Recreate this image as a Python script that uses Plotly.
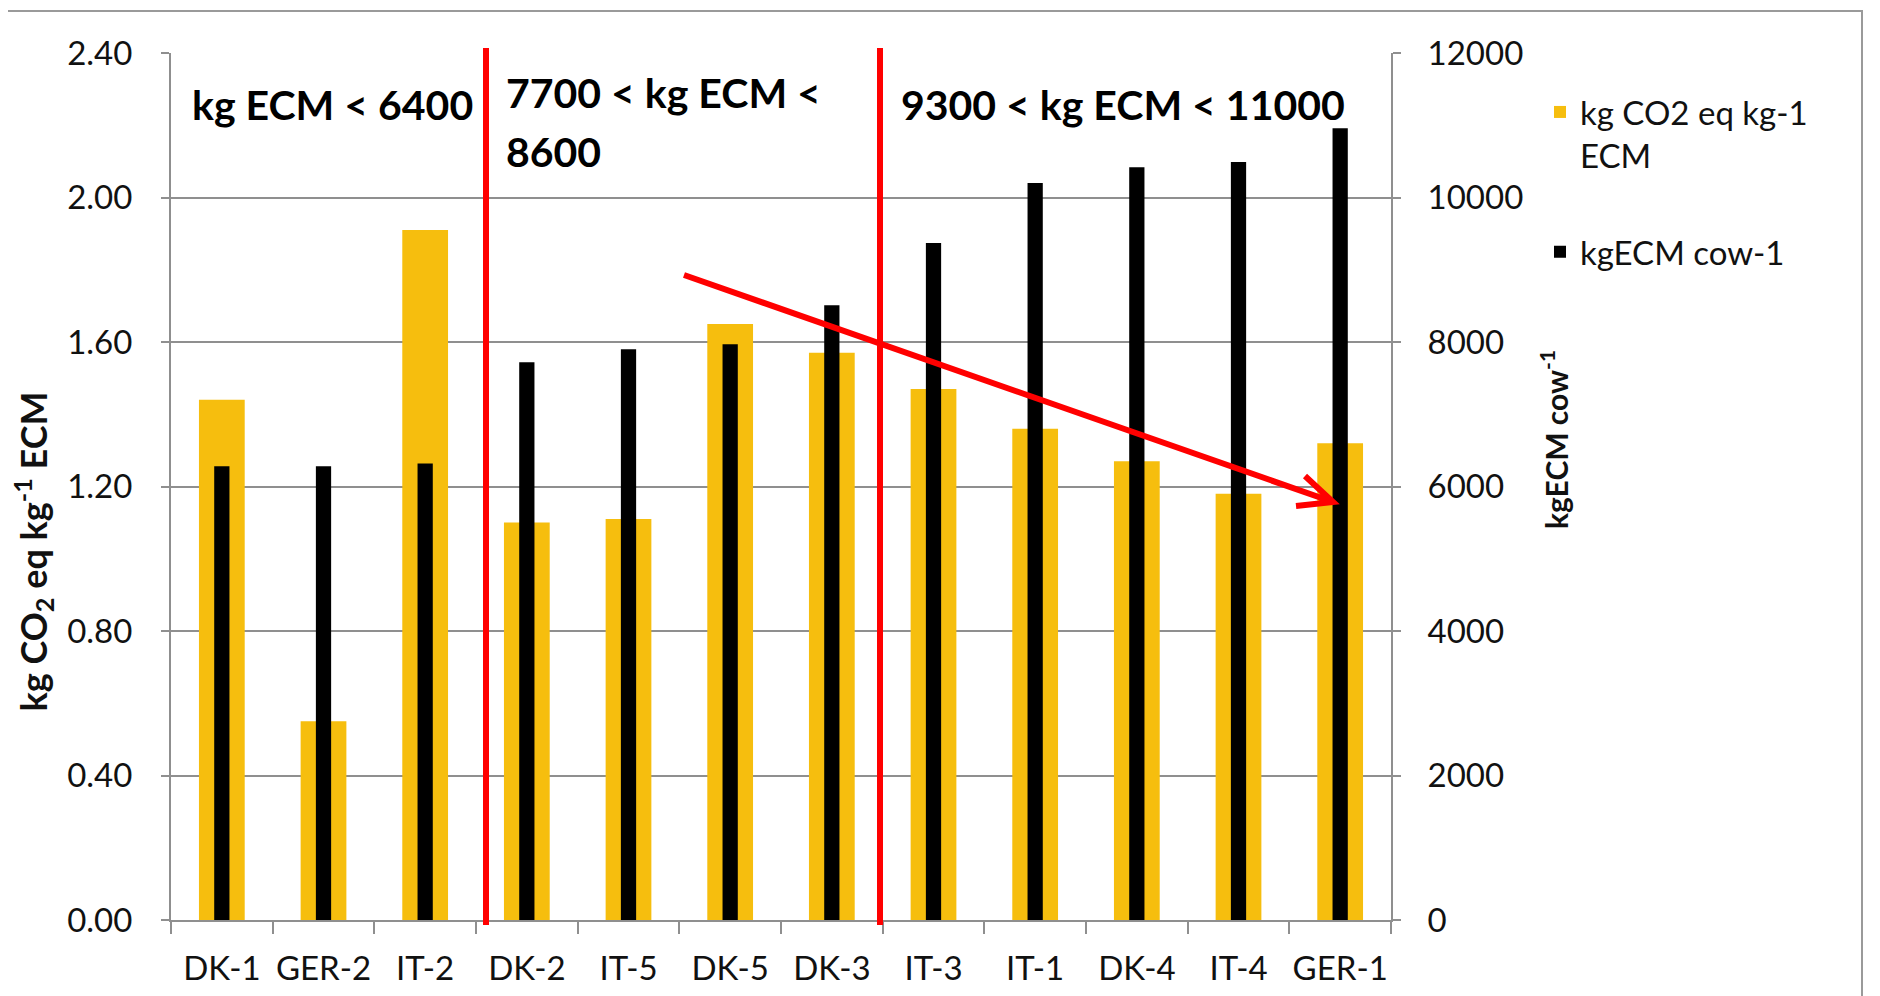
import plotly.graph_objects as go

# ------------ datos del grafico ------------ #
farms = ["DK-1", "GER-2", "IT-2", "DK-2", "IT-5", "DK-5", "DK-3",
         "IT-3", "IT-1", "DK-4", "IT-4", "GER-1"]
co2_per_kg_ecm = [1.44, 0.55, 1.91, 1.10, 1.11, 1.65, 1.57,
                  1.47, 1.36, 1.27, 1.18, 1.32]
ecm_per_cow = [6280, 6280, 6320, 7720, 7900, 7970, 8510,
               9370, 10200, 10420, 10490, 10960]

group_labels = ["kg ECM < 6400", "7700 < kg ECM <", "8600", "9300 < kg ECM < 11000"]

W, H = 1880, 996
OFF = 8  # margen del body en la pagina html
L, T = 171 - OFF, 53 - OFF
R, B = W - (1391 - OFF), H - (920 - OFF)
PW, PH = W - L - R, H - T - B


def px_x(px):
    # pixel de pagina -> coordenada paper
    return (px - OFF - L) / PW


def px_y(py):
    return (H - B - (py - OFF)) / PH


def grafico_co2_ecm():
    fig = go.Figure()
    fig.add_trace(go.Bar(
        x=farms, y=co2_per_kg_ecm, name="kg CO2 eq kg-1<br>ECM",
        marker=dict(color="#F6BE0E", line=dict(width=0)),
        width=0.45, yaxis="y", legendgroup="a",
    ))
    fig.add_trace(go.Bar(
        x=farms, y=ecm_per_cow, name="kgECM cow-1",
        marker=dict(color="#000000", line=dict(width=0)),
        width=0.15, yaxis="y2", legendgroup="b",
    ))

    grid = "#8f8f8f"
    tickfont = dict(family="Lato", size=33, color="#111111")
    fig.update_layout(
        width=W, height=H,
        margin=dict(l=L, r=R, t=T, b=B, pad=0, autoexpand=False),
        barmode="overlay",
        plot_bgcolor="white", paper_bgcolor="white",
        font=dict(family="Lato", color="#111111"),
        xaxis=dict(
            type="category", showline=True, linecolor=grid, linewidth=2,
            ticks="outside", tickson="boundaries", ticklen=12, tickcolor=grid,
            tickwidth=2, tickfont=tickfont, ticklabelstandoff=18,
            tickangle=0, automargin=False, showgrid=False,
        ),
        yaxis=dict(
            range=[0, 2.4], dtick=0.4, tickformat=".2f",
            showline=True, linecolor=grid, linewidth=2,
            showgrid=True, gridcolor=grid, gridwidth=2,
            ticks="outside", ticklen=8, tickcolor=grid, tickwidth=2,
            tickfont=tickfont, ticklabelstandoff=22, zeroline=False,
            automargin=False,
        ),
        yaxis2=dict(
            range=[0, 12000], dtick=2000, tickformat="d", side="right",
            overlaying="y", showline=True, linecolor=grid, linewidth=2,
            showgrid=False, ticks="outside", ticklen=8, tickcolor=grid,
            tickwidth=2, tickfont=tickfont, ticklabelstandoff=20,
            zeroline=False, automargin=False,
        ),
        legend=dict(
            x=px_x(1540), y=px_y(84), xanchor="left", yanchor="top",
            font=dict(family="Lato", size=33, color="#111111"),
            valign="top", tracegroupgap=51, traceorder="grouped",
            bgcolor="rgba(0,0,0,0)",
        ),
        showlegend=True,
    )

    # titulos de ejes
    bold = dict(family="Lato", size=36, color="#111111", weight="bold")
    fig.add_annotation(x=px_x(4), y=px_y(552), xref="paper", yref="paper",
                       text="<b>kg CO<sub>2</sub> eq kg<sup>-1</sup> ECM</b>",
                       textangle=-90, showarrow=False, font=bold)
    fig.add_annotation(x=px_x(1576), y=px_y(439), xref="paper", yref="paper",
                       text="<b>kgECM cow<sup>-1</sup></b>",
                       textangle=-90, showarrow=False,
                       font=dict(bold, size=30))

    # etiquetas de grupos
    gfont = dict(family="Lato", size=41, color="#000000")
    pos = [(190, 104), (504, 92), (504, 152), (899, 105)]
    for txt, (gx, gy) in zip(group_labels, pos):
        fig.add_annotation(x=px_x(gx), y=px_y(gy), xref="paper", yref="paper",
                           text=f"<b>{txt}</b>", xanchor="left", yanchor="middle",
                           showarrow=False, font=gfont)

    # lineas rojas de separacion
    for lx in (486, 880):
        fig.add_shape(type="line", xref="paper", yref="paper",
                      x0=px_x(lx), x1=px_x(lx), y0=px_y(48), y1=px_y(925),
                      line=dict(color="#FF0000", width=6))

    # flecha roja (punta abierta)
    sx, sy = px_x(684), px_y(275)
    tx, ty = px_x(1333), px_y(502)
    ux, uy = px_x(1305), px_y(476)
    lx_, ly_ = px_x(1296), px_y(506)
    path = (f"M{sx},{sy} L{tx},{ty} M{ux},{uy} L{tx},{ty} L{lx_},{ly_}")
    fig.add_shape(type="path", xref="paper", yref="paper", path=path,
                  line=dict(color="#FF0000", width=6))

    # marco del grafico
    fig.add_shape(type="rect", xref="paper", yref="paper",
                  x0=px_x(-20), x1=px_x(1862), y0=px_y(1030), y1=px_y(11),
                  line=dict(color="#9a9a9a", width=2), layer="above")
    return fig


fig = grafico_co2_ecm()
fig.write_html("out.html")
